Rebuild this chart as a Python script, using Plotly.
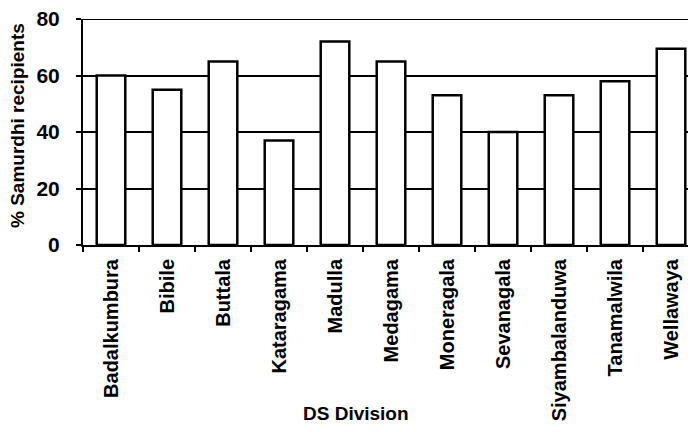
import plotly.graph_objects as go

divisions = ["Badalkumbura", "Bibile", "Buttala", "Kataragama", "Madulla", "Medagama",
             "Moneragala", "Sevanagala", "Siyambalanduwa", "Tanamalwila", "Wellawaya"]
recipients_pct = [60, 55, 65, 37, 72, 65, 53, 40, 53, 58, 69.5]
y_ticks = [0, 20, 40, 60, 80]

FONT = "Liberation Sans, Arial, Helvetica, sans-serif"

# page body has an 8px margin, so the figure is offset by 8px
PW = 613   # plot width in px
PH = 226   # plot height in px

fig = go.Figure()
fig.add_trace(go.Bar(
    x=divisions, y=recipients_pct,
    marker=dict(color="white", line=dict(color="black", width=2.5)),
    width=0.51,
))

fig.update_layout(
    width=688, height=424,
    margin=dict(l=75, r=0, t=11, b=187),
    paper_bgcolor="white", plot_bgcolor="white",
    showlegend=False,
    font=dict(family=FONT, color="black"),
)

fig.update_xaxes(
    type="category", range=[-0.5, 10.446], automargin=False,
    tickson="boundaries", ticks="outside", ticklen=5, tickwidth=1.5, tickcolor="black",
    showline=True, linecolor="black", linewidth=2,
    tickangle=-90, tickfont=dict(family=FONT, size=20, weight="bold", color="black"),
    ticklabelstandoff=4, ticklabeloverflow="allow",
    showgrid=False,
)
fig.update_yaxes(
    range=[0, 80], tickvals=y_ticks, automargin=False,
    ticks="outside", ticklen=5, tickwidth=1.5, tickcolor="black",
    showline=True, linecolor="black", linewidth=2,
    showgrid=True, gridcolor="black", gridwidth=1.5,
    tickfont=dict(family=FONT, size=21, weight="bold", color="black"),
    ticklabelstandoff=12, ticklabeloverflow="allow",
    zeroline=False,
)

fig.add_shape(type="line", xref="paper", yref="y", x0=0, x1=1, y0=80, y1=80,
              line=dict(color="black", width=2))

fig.add_annotation(text="% Samurdhi recipients", xref="paper", yref="paper",
                   x=-65/PW, y=(245-126)/PH, xanchor="center", yanchor="middle",
                   textangle=-90, showarrow=False,
                   font=dict(family=FONT, size=19, weight="bold", color="black"))
fig.add_annotation(text="DS Division", xref="paper", yref="paper",
                   x=(356-83)/PW, y=(245-413)/PH, xanchor="center", yanchor="middle",
                   showarrow=False,
                   font=dict(family=FONT, size=19, weight="bold", color="black"))

fig.write_html("out.html")
